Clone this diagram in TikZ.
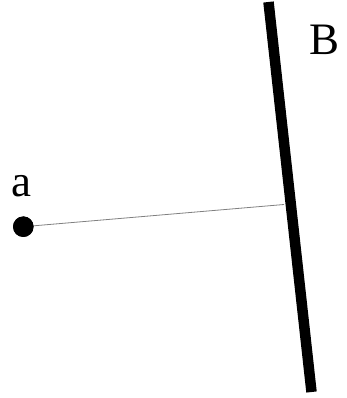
\documentclass[tikz,border=0pt]{standalone}
\usepackage{fontspec}
\setmainfont{Liberation Serif}
\begin{document}
\begin{tikzpicture}[x=1pt,y=-1pt,
  lbl/.style={font=\fontsize{45}{54}\selectfont, inner sep=0pt, anchor=base},
  wall/.style={line width=10.5pt, line cap=butt},
  ray/.style={draw=gray, line width=0.8pt}]
\useasboundingbox (0,0) rectangle (346,398);
\coordinate (Btop) at (268.5,2);
\coordinate (Bbot) at (311.5,392);
\draw[wall] (Btop) -- (Bbot);
\coordinate (h) at (284,204.5);
\node[circle, fill=black, minimum size=20.5pt, inner sep=0pt] (a) at (23.3,226.7) {};
\draw[ray] (a.center) -- (h);
\fill (a.center) circle (10.25pt);
\node[lbl] (la) at (21.7,196.7) {a};
\node[lbl] (lb) at (324.2,55) {B};
\end{tikzpicture}
\end{document}
